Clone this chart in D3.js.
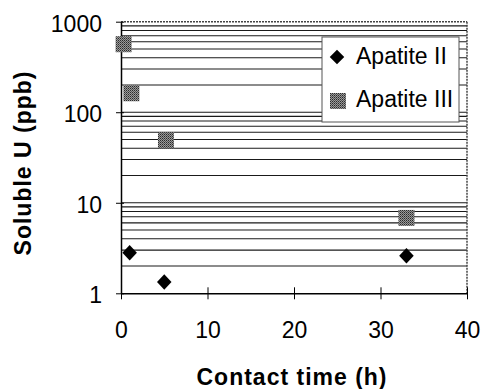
<!DOCTYPE html>
<html>
<head>
<meta charset="utf-8">
<script src="https://cdn.jsdelivr.net/npm/d3@7"></script>
<style>
  body { margin: 0; background: #fff; }
  svg text { font-family: "Liberation Sans", Arial, sans-serif; fill: #000; }
</style>
</head>
<body>
<div id="chart"></div>
<script>
// contact time (h) and soluble U (ppb)
const timeII = [1, 5, 33];
const solubleII = [2.8, 1.33, 2.6];
const timeIII = [0.3, 1.2, 5.2, 33];
const solubleIII = [564, 162, 49, 6.8];

const xTicks = [0, 10, 20, 30, 40];
const yTicks = [1, 10, 100, 1000];
const seriesNames = ["Apatite II", "Apatite III"];

const width = 481, height = 389;
const plotLeft = 121, plotRight = 467, plotTop = 21.7, plotBottom = 293.3;

const svg = d3.select("#chart").append("svg")
    .attr("width", width)
    .attr("height", height);

// halftone-ish fill for the square markers
const defs = svg.append("defs");
const pat = defs.append("pattern")
    .attr("id", "dots")
    .attr("width", 2).attr("height", 2)
    .attr("patternUnits", "userSpaceOnUse");
pat.append("rect").attr("width", 2).attr("height", 2).attr("fill", "#9a9a9a");
pat.append("rect").attr("width", 1).attr("height", 1).attr("fill", "#2a2a2a");
pat.append("rect").attr("x", 1).attr("y", 1).attr("width", 1).attr("height", 1).attr("fill", "#555");

const x = d3.scaleLinear().domain([0, 40]).range([plotLeft, plotRight]);
const y = d3.scaleLog().domain([1, 1000]).range([plotBottom, plotTop]);

// horizontal gridlines at every log tick
const gridVals = y.ticks().filter(v => v > 1 && v < 1000);
svg.append("g").selectAll("line")
    .data(gridVals)
    .enter().append("line")
    .attr("x1", plotLeft).attr("x2", plotRight)
    .attr("y1", d => y(d)).attr("y2", d => y(d))
    .attr("stroke", "#1a1a1a")
    .attr("stroke-width", 1.1);

// top and right frame (dotted in the scan)
svg.append("line")
    .attr("x1", plotLeft).attr("x2", plotRight).attr("y1", plotTop).attr("y2", plotTop)
    .attr("stroke", "#444").attr("stroke-width", 1.5).attr("stroke-dasharray", "2,1");
svg.append("line")
    .attr("x1", plotRight).attr("x2", plotRight).attr("y1", plotTop).attr("y2", plotBottom)
    .attr("stroke", "#444").attr("stroke-width", 1.5).attr("stroke-dasharray", "2,1");

// axes
const xAxis = d3.axisBottom(x).tickValues(xTicks).tickSizeInner(6).tickSizeOuter(0).tickPadding(22);
const gx = svg.append("g").attr("transform", `translate(0,${plotBottom})`).call(xAxis);
gx.selectAll(".tick line").attr("y1", -6).attr("stroke", "#000");
gx.select(".domain").attr("stroke", "#000").attr("stroke-width", 1.5);
gx.selectAll("text").attr("font-size", 23).attr("font-family", "Liberation Sans, Arial, sans-serif");

const yAxis = d3.axisLeft(y).tickValues(yTicks).tickFormat(d3.format("d"))
    .tickSizeInner(5).tickSizeOuter(0).tickPadding(14);
const gy = svg.append("g").attr("transform", `translate(${plotLeft},0)`).call(yAxis);
gy.selectAll(".tick line").attr("x1", 3).attr("x2", -5).attr("stroke", "#000");
gy.select(".domain").attr("stroke", "#000").attr("stroke-width", 1.5);
gy.selectAll("text").attr("font-size", 23).attr("font-family", "Liberation Sans, Arial, sans-serif")
    .attr("dy", "0.42em");

// axis titles
svg.append("text")
    .attr("x", 292).attr("y", 385)
    .attr("text-anchor", "middle")
    .attr("font-size", 23).attr("font-weight", "bold")
    .attr("letter-spacing", 1)
    .text("Contact time (h)");

svg.append("text")
    .attr("transform", "translate(31,163) rotate(-90)")
    .attr("text-anchor", "middle")
    .attr("font-size", 23).attr("font-weight", "bold")
    .attr("letter-spacing", 1)
    .text("Soluble U (ppb)");

// markers
const diamond = d3.symbol().type(d3.symbolDiamond2).size(135);
const mSize = 16;

svg.append("g").selectAll("rect")
    .data(timeIII.map((t, i) => [t, solubleIII[i]]))
    .enter().append("rect")
    .attr("x", d => x(d[0]) - mSize / 2)
    .attr("y", d => y(d[1]) - mSize / 2)
    .attr("width", mSize).attr("height", mSize)
    .attr("fill", "url(#dots)");

svg.append("g").selectAll("path")
    .data(timeII.map((t, i) => [t, solubleII[i]]))
    .enter().append("path")
    .attr("d", diamond)
    .attr("transform", d => `translate(${x(d[0])},${y(d[1])}) scale(1,1.06)`)
    .attr("fill", "#000");

// legend
const lg = svg.append("g").attr("transform", "translate(322,37)");
lg.append("rect")
    .attr("width", 137).attr("height", 85)
    .attr("fill", "#fff").attr("stroke", "#555").attr("stroke-width", 1);
lg.append("path")
    .attr("d", diamond)
    .attr("transform", "translate(15,20)")
    .attr("fill", "#000");
lg.append("rect")
    .attr("x", 8).attr("y", 56).attr("width", 16).attr("height", 16)
    .attr("fill", "url(#dots)");
lg.selectAll("text.leg")
    .data(seriesNames)
    .enter().append("text")
    .attr("class", "leg")
    .attr("x", 34)
    .attr("y", (d, i) => 27 + i * 43)
    .attr("font-size", 23)
    .text(d => d);
</script>
</body>
</html>
